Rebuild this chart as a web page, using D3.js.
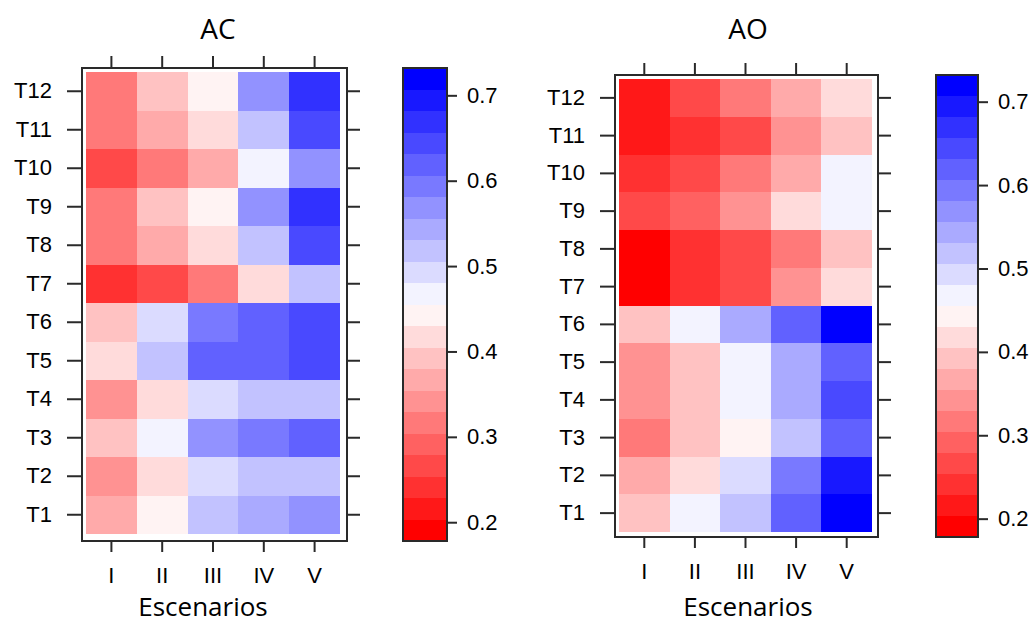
<!DOCTYPE html>
<html>
<head>
<meta charset="utf-8">
<script src="https://cdn.jsdelivr.net/npm/d3@7"></script>
<style>
  html, body { margin: 0; padding: 0; background: #ffffff; }
  svg { display: block; }
  .tick text { font-family: "Liberation Sans", Arial, sans-serif; font-size: 22px; fill: #000; }
  .title { font-family: "Open Sans", sans-serif; font-size: 28px; fill: #000; }
  .xlab { font-family: "Open Sans", sans-serif; font-size: 26px; fill: #000; }
</style>
</head>
<body>
<svg id="chart" width="1032" height="624"></svg>
<script>
// Scenario columns and period rows
const scenarios = ["I", "II", "III", "IV", "V"];
const periods = ["T1", "T2", "T3", "T4", "T5", "T6", "T7", "T8", "T9", "T10", "T11", "T12"];

// AC values: one row per period (T1..T12), one column per scenario (I..V)
const acValues = [
  [0.368, 0.442, 0.518, 0.543, 0.568],
  [0.341, 0.418, 0.492, 0.521, 0.519],
  [0.392, 0.469, 0.571, 0.593, 0.617],
  [0.338, 0.421, 0.489, 0.516, 0.522],
  [0.419, 0.523, 0.622, 0.618, 0.646],
  [0.389, 0.494, 0.592, 0.621, 0.643],
  [0.241, 0.268, 0.316, 0.417, 0.519],
  [0.314, 0.371, 0.423, 0.518, 0.647],
  [0.318, 0.394, 0.441, 0.566, 0.671],
  [0.269, 0.312, 0.367, 0.471, 0.572],
  [0.317, 0.368, 0.419, 0.522, 0.644],
  [0.313, 0.391, 0.444, 0.569, 0.668]
];

// AO values: same layout
const aoValues = [
  [0.391, 0.468, 0.521, 0.619, 0.721],
  [0.369, 0.418, 0.493, 0.591, 0.694],
  [0.316, 0.388, 0.442, 0.517, 0.621],
  [0.342, 0.392, 0.469, 0.541, 0.647],
  [0.339, 0.394, 0.471, 0.543, 0.618],
  [0.393, 0.472, 0.538, 0.622, 0.724],
  [0.188, 0.242, 0.268, 0.338, 0.421],
  [0.192, 0.239, 0.271, 0.314, 0.391],
  [0.268, 0.291, 0.343, 0.418, 0.466],
  [0.241, 0.272, 0.318, 0.371, 0.473],
  [0.214, 0.243, 0.269, 0.341, 0.389],
  [0.216, 0.267, 0.314, 0.368, 0.422]
];

// Colour key
const keyMin = 0.178;
const keyMax = 0.732;
const keyBins = 22;
const keyTicks = [0.2, 0.3, 0.4, 0.5, 0.6, 0.7];

const ramp = d3.piecewise(d3.interpolateRgb, ["#ff0000", "#ffffff", "#0000ff"]);
const keyColors = d3.range(keyBins).map(i => ramp(i / (keyBins - 1)));
const color = d3.scaleQuantize().domain([keyMin, keyMax]).range(keyColors);

const panels = [
  {
    title: "AC", values: acValues,
    frame: { x0: 82, x1: 347, y0: 68, y1: 541 },
    cells: { x0: 86, x1: 340, y0: 72, y1: 534 },
    key: { x0: 403, x1: 447, y0: 68, y1: 541 },
    titleX: 218, titleY: 39, xlabX: 203, xlabY: 616
  },
  {
    title: "AO", values: aoValues,
    frame: { x0: 615, x1: 878, y0: 75, y1: 537 },
    cells: { x0: 619, x1: 872, y0: 79, y1: 532 },
    key: { x0: 936, x1: 978, y0: 75, y1: 537 },
    titleX: 748, titleY: 39, xlabX: 748, xlabY: 616
  }
];

const svg = d3.select("#chart");
const ink = "#2a2a2a";

panels.forEach(p => {
  const g = svg.append("g");

  const x = d3.scaleBand().domain(scenarios).range([p.cells.x0, p.cells.x1]);
  const y = d3.scaleBand().domain(periods.slice().reverse()).range([p.cells.y0, p.cells.y1]);

  // heat cells
  const cells = [];
  p.values.forEach((row, r) => row.forEach((v, c) => cells.push({ period: periods[r], scen: scenarios[c], v })));
  g.append("g").selectAll("rect").data(cells).join("rect")
    .attr("x", d => x(d.scen))
    .attr("y", d => y(d.period))
    .attr("width", x.bandwidth())
    .attr("height", y.bandwidth())
    .attr("fill", d => color(d.v))
    .attr("shape-rendering", "crispEdges");

  // panel frame
  g.append("rect")
    .attr("x", p.frame.x0).attr("y", p.frame.y0)
    .attr("width", p.frame.x1 - p.frame.x0).attr("height", p.frame.y1 - p.frame.y0)
    .attr("fill", "none").attr("stroke", ink).attr("stroke-width", 2);

  const styleAxis = sel => {
    sel.select(".domain").remove();
    sel.selectAll(".tick line").attr("stroke", ink).attr("stroke-width", 2);
  };

  // axes on all four sides; labels on left and bottom only
  g.append("g").attr("transform", `translate(0,${p.frame.y1})`)
    .call(d3.axisBottom(x).tickSizeInner(11).tickSizeOuter(0).tickPadding(15))
    .call(styleAxis);
  g.append("g").attr("transform", `translate(0,${p.frame.y0})`)
    .call(d3.axisTop(x).tickSizeInner(12).tickSizeOuter(0).tickFormat(""))
    .call(styleAxis);
  g.append("g").attr("transform", `translate(${p.frame.x0},0)`)
    .call(d3.axisLeft(y).tickSizeInner(15).tickSizeOuter(0).tickPadding(15))
    .call(styleAxis);
  g.append("g").attr("transform", `translate(${p.frame.x1},0)`)
    .call(d3.axisRight(y).tickSizeInner(13).tickSizeOuter(0).tickFormat(""))
    .call(styleAxis);

  // titles
  g.append("text").attr("class", "title")
    .attr("x", p.titleX).attr("y", p.titleY).attr("text-anchor", "middle").text(p.title);
  g.append("text").attr("class", "xlab")
    .attr("x", p.xlabX).attr("y", p.xlabY).attr("text-anchor", "middle").text("Escenarios");

  // colour key
  const k = d3.scaleLinear().domain([keyMin, keyMax]).range([p.key.y1, p.key.y0]);
  const step = (keyMax - keyMin) / keyBins;
  g.append("g").selectAll("rect").data(keyColors).join("rect")
    .attr("x", p.key.x0)
    .attr("y", (d, i) => k(keyMin + (i + 1) * step))
    .attr("width", p.key.x1 - p.key.x0)
    .attr("height", (d, i) => k(keyMin + i * step) - k(keyMin + (i + 1) * step))
    .attr("fill", d => d)
    .attr("shape-rendering", "crispEdges");
  g.append("rect")
    .attr("x", p.key.x0).attr("y", p.key.y0)
    .attr("width", p.key.x1 - p.key.x0).attr("height", p.key.y1 - p.key.y0)
    .attr("fill", "none").attr("stroke", ink).attr("stroke-width", 2);
  g.append("g").attr("transform", `translate(${p.key.x1},0)`)
    .call(d3.axisRight(k).tickValues(keyTicks).tickFormat(d3.format(".1f"))
      .tickSizeInner(10).tickSizeOuter(0).tickPadding(10))
    .call(styleAxis);
});
</script>
</body>
</html>
